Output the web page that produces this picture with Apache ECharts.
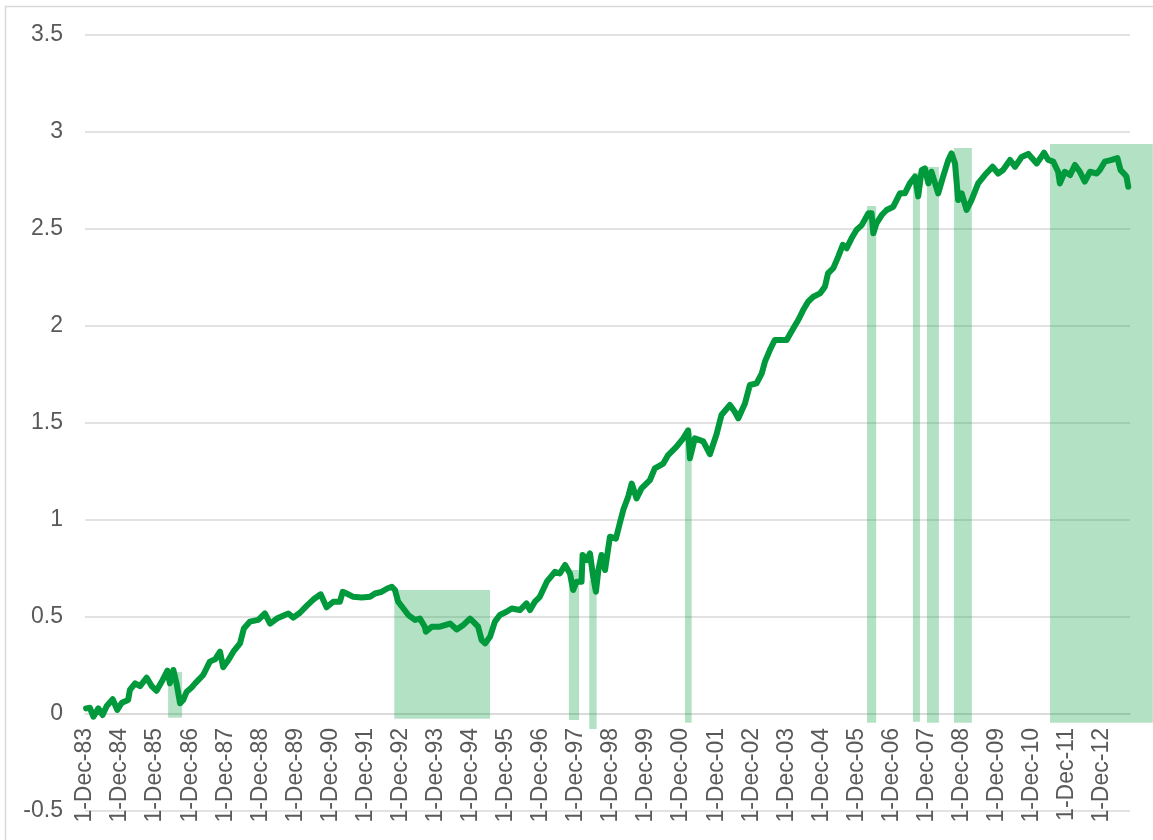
<!DOCTYPE html>
<html>
<head>
<meta charset="utf-8">
<script src="https://cdn.jsdelivr.net/npm/echarts@6/dist/echarts.min.js"></script>
<style>
  html, body { margin: 0; padding: 0; background: #fff; }
  #chart { width: 1153px; height: 840px; }
</style>
</head>
<body>
<div id="chart"></div>
<script>
// x = years since 1-Dec-83
var yearsSinceDec83 = [0.03,0.14,0.24,0.38,0.50,0.62,0.79,0.92,1.05,1.23,1.28,1.43,1.57,1.76,1.90,2.04,2.19,2.35,2.42,2.52,
  2.61,2.71,2.80,2.90,3.04,3.14,3.37,3.56,3.71,3.85,3.94,4.09,4.23,4.42,4.53,4.70,4.94,5.13,5.28,5.47,
  5.80,5.94,6.13,6.32,6.51,6.72,6.89,7.08,7.27,7.35,7.46,7.65,7.89,8.13,8.27,8.46,8.62,8.75,8.84,8.93,
  9.08,9.22,9.41,9.55,9.69,9.72,9.89,10.12,10.41,10.60,10.79,10.98,11.07,11.21,11.31,11.41,11.55,11.69,11.83,12.02,
  12.17,12.40,12.59,12.69,12.83,12.97,13.17,13.40,13.54,13.69,13.83,13.92,14.02,14.16,14.19,14.31,14.40,14.49,14.57,14.64,
  14.73,14.83,14.97,15.14,15.26,15.35,15.49,15.59,15.73,15.87,16.11,16.25,16.49,16.63,16.87,17.06,17.20,17.25,17.39,17.63,
  17.82,18.01,18.15,18.39,18.53,18.63,18.82,18.96,19.15,19.30,19.39,19.53,19.67,19.87,20.01,20.20,20.34,20.48,20.62,20.77,
  20.96,21.10,21.19,21.34,21.48,21.61,21.72,21.86,22.00,22.15,22.34,22.43,22.48,22.57,22.72,22.86,23.05,23.24,23.38,23.52,
  23.67,23.76,23.86,23.95,24.05,24.14,24.33,24.47,24.62,24.71,24.81,24.90,25.00,25.14,25.28,25.47,25.66,25.88,26.04,26.18,
  26.38,26.52,26.71,26.90,27.14,27.35,27.47,27.61,27.75,27.80,27.94,28.09,28.23,28.37,28.51,28.66,28.85,28.94,29.08,29.28,
  29.44,29.53,29.63,29.70,29.75];
var cumValue = [0.029,0.032,-0.014,0.029,-0.005,0.041,0.076,0.021,0.058,0.072,0.124,0.158,0.144,0.187,0.144,0.120,0.167,0.223,0.158,0.227,
  0.158,0.055,0.072,0.115,0.137,0.158,0.201,0.270,0.282,0.321,0.241,0.278,0.321,0.364,0.441,0.476,0.485,0.518,0.466,0.492,
  0.518,0.497,0.522,0.557,0.590,0.617,0.550,0.579,0.579,0.630,0.621,0.604,0.601,0.604,0.621,0.630,0.647,0.656,0.639,0.579,
  0.544,0.510,0.485,0.492,0.450,0.424,0.450,0.450,0.466,0.436,0.459,0.492,0.476,0.450,0.381,0.364,0.398,0.476,0.510,0.527,
  0.544,0.536,0.570,0.536,0.579,0.604,0.682,0.733,0.724,0.768,0.724,0.639,0.682,0.682,0.820,0.794,0.828,0.708,0.630,0.742,
  0.820,0.742,0.914,0.904,0.990,1.052,1.120,1.188,1.111,1.163,1.206,1.266,1.291,1.335,1.378,1.421,1.462,1.318,1.421,1.405,
  1.339,1.442,1.541,1.593,1.558,1.524,1.601,1.696,1.704,1.756,1.816,1.876,1.928,1.928,1.928,1.988,2.031,2.082,2.125,2.151,
  2.168,2.203,2.272,2.298,2.358,2.418,2.401,2.452,2.495,2.520,2.581,2.581,2.478,2.529,2.572,2.598,2.615,2.684,2.684,2.735,
  2.770,2.668,2.804,2.813,2.735,2.795,2.684,2.770,2.856,2.890,2.838,2.649,2.684,2.598,2.649,2.735,2.778,2.821,2.786,2.804,
  2.856,2.821,2.871,2.887,2.838,2.893,2.856,2.847,2.795,2.735,2.795,2.778,2.830,2.795,2.744,2.795,2.786,2.804,2.847,2.856,
  2.866,2.804,2.786,2.770,2.718];

// shaded periods: start, end, low, high
var shadeStart = [2.37, 8.82, 13.80, 14.38, 17.11, 22.30, 23.61, 24.01, 24.78, 27.52];
var shadeEnd   = [2.77, 11.55, 14.09, 14.59, 17.30, 22.56, 23.81, 24.35, 25.29, 30.45];
var shadeLow   = [-0.019, -0.024, -0.031, -0.077, -0.045, -0.045, -0.040, -0.045, -0.045, -0.045];
var shadeHigh  = [0.216, 0.639, 0.742, 0.690, 1.450, 2.619, 2.790, 2.820, 2.918, 2.938];

var lineData = yearsSinceDec83.map(function (x, i) { return [x, cumValue[i]]; });
var shadeData = shadeStart.map(function (s, i) { return [s, shadeEnd[i], shadeLow[i], shadeHigh[i]]; });

var myChart = echarts.init(document.getElementById('chart'));

var option = {
    animation: false,
    backgroundColor: '#fff',
    textStyle: { fontFamily: 'Liberation Sans, Arial, sans-serif' },
    graphic: [{
        type: 'rect',
        shape: { x: 5.5, y: 6.5, width: 1170, height: 860 },
        style: { fill: 'none', stroke: '#d9d9d9', lineWidth: 1.5 },
        silent: true
    }],
    grid: { left: 85, right: 23, top: 35, bottom: 29, outerBoundsMode: 'none', containLabel: false },
    xAxis: {
        type: 'value',
        min: 0,
        max: 29.8,
        interval: 1,
        // axis sits on y = 0 (one 0.5 step above the bottom of the grid)
        offset: -97,
        axisLine: { onZero: false, lineStyle: { color: '#d9d9d9', width: 1.5 } },
        axisTick: { show: false },
        splitLine: { show: false },
        axisLabel: {
            rotate: 90,
            margin: 14,
            fontSize: 23,
            color: '#595959',
            showMaxLabel: false,
            formatter: function (v) {
                if (Math.abs(v - Math.round(v)) > 1e-6) return '';
                var yy = (83 + Math.round(v)) % 100;
                return '1-Dec-' + (yy < 10 ? '0' + yy : yy);
            }
        }
    },
    yAxis: {
        type: 'value',
        min: -0.5,
        max: 3.5,
        interval: 0.5,
        axisLine: { show: false },
        axisTick: { show: false },
        splitLine: { lineStyle: { color: '#d9d9d9', width: 1.5 } },
        axisLabel: { fontSize: 23, color: '#595959', margin: 22 }
    },
    series: [
        {
            type: 'custom',
            z: 1,
            clip: false,
            data: shadeData,
            encode: { x: [0, 1], y: [2, 3] },
            renderItem: function (params, api) {
                var p0 = api.coord([api.value(0), api.value(3)]);
                var p1 = api.coord([api.value(1), api.value(2)]);
                return {
                    type: 'rect',
                    shape: { x: p0[0], y: p0[1], width: p1[0] - p0[0], height: p1[1] - p0[1] },
                    style: { fill: 'rgba(0,154,61,0.3)' }
                };
            }
        },
        {
            type: 'line',
            z: 2,
            data: lineData,
            showSymbol: false,
            lineStyle: { color: '#00993b', width: 6, join: 'round', cap: 'round' }
        }
    ]
};

myChart.setOption(option);
</script>
</body>
</html>
